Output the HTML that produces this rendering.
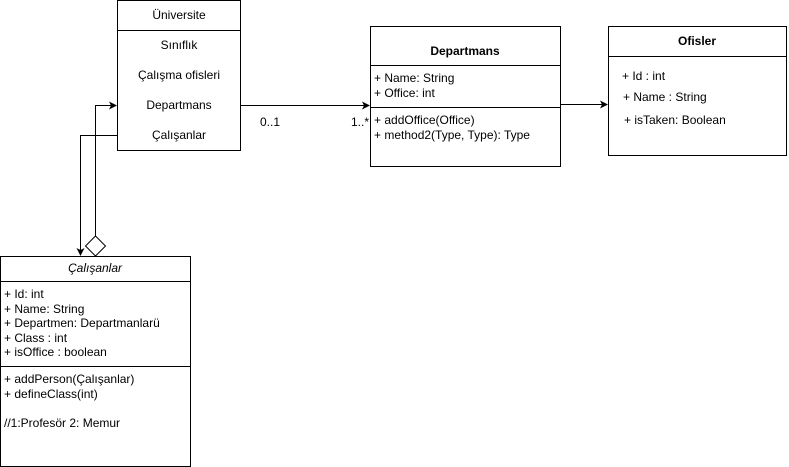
<!DOCTYPE html>
<html><head><meta charset="utf-8"><style>
html,body{margin:0;padding:0;background:#fff;width:789px;height:467px;overflow:hidden}
svg{display:block}
text{font-family:"Liberation Sans",Arial,sans-serif;font-size:12px;fill:#000}
</style></head><body>
<svg width="789" height="467" viewBox="0 0 789 467">
<g fill="none" stroke="#000" stroke-width="1">
<rect x="117.5" y="0.5" width="123" height="150"/>
<line x1="117.5" y1="30.5" x2="240.5" y2="30.5"/>
<rect x="370.5" y="26.5" width="190" height="140"/>
<line x1="370.5" y1="65.5" x2="560.5" y2="65.5"/>
<line x1="370.5" y1="107.5" x2="560.5" y2="107.5"/>
<rect x="608.5" y="26.5" width="178" height="129"/>
<line x1="608.5" y1="56.5" x2="786.5" y2="56.5"/>
<rect x="0.5" y="256.5" width="190" height="210"/>
<line x1="0.5" y1="281.5" x2="190.5" y2="281.5"/>
<line x1="0.5" y1="366.5" x2="190.5" y2="366.5"/>
<polyline points="240.5,105.5 364,105.5"/>
<polyline points="560.5,104.5 602,104.5"/>
<polyline points="117.5,135.5 80.5,135.5 80.5,250"/>
<polyline points="95.5,236 95.5,105.5 111,105.5"/>
<polygon points="95.5,236 105.5,246 95.5,256 85.5,246" fill="#fff"/>
</g>
<g fill="#000">
<polygon points="370,105.5 362,101.5 364,105.5 362,109.5"/>
<polygon points="608,104.5 600,100.5 602,104.5 600,108.5"/>
<polygon points="117,105.5 109,101.5 111,105.5 109,109.5"/>
<polygon points="80.5,256 76.5,248 80.5,250 84.5,248"/>
</g>
<g text-anchor="middle">
<text x="179" y="19">Üniversite</text>
<text x="179" y="49">Sınıflık</text>
<text x="179" y="79">Çalışma ofisleri</text>
<text x="179" y="109">Departmans</text>
<text x="179" y="139">Çalışanlar</text>
<text x="465" y="55" font-weight="bold">Departmans</text>
<text x="697" y="45" font-weight="bold">Ofisler</text>
<text x="95" y="272" font-style="italic">Çalışanlar</text>
</g>
<text x="260" y="126">0..1</text>
<text x="351" y="126">1..*</text>
<text x="374" y="82">+ Name: String</text>
<text x="374" y="97">+ Office: int</text>
<text x="374" y="124">+ addOffice(Office)</text>
<text x="374" y="139">+ method2(Type, Type): Type</text>
<text x="622" y="80">+ Id : int</text>
<text x="623" y="101">+ Name : String</text>
<text x="624" y="124">+ isTaken: Boolean</text>
<text x="4" y="298">+ Id: int</text>
<text x="4" y="313">+ Name: String</text>
<text x="4" y="327">+ Departmen: Departmanlarü</text>
<text x="4" y="342">+ Class : int</text>
<text x="4" y="356">+ isOffice : boolean</text>
<text x="4" y="383">+ addPerson(Çalışanlar)</text>
<text x="4" y="398">+ defineClass(int)</text>
<text x="4" y="427">//1:Profesör 2: Memur</text>
</svg>
</body></html>
